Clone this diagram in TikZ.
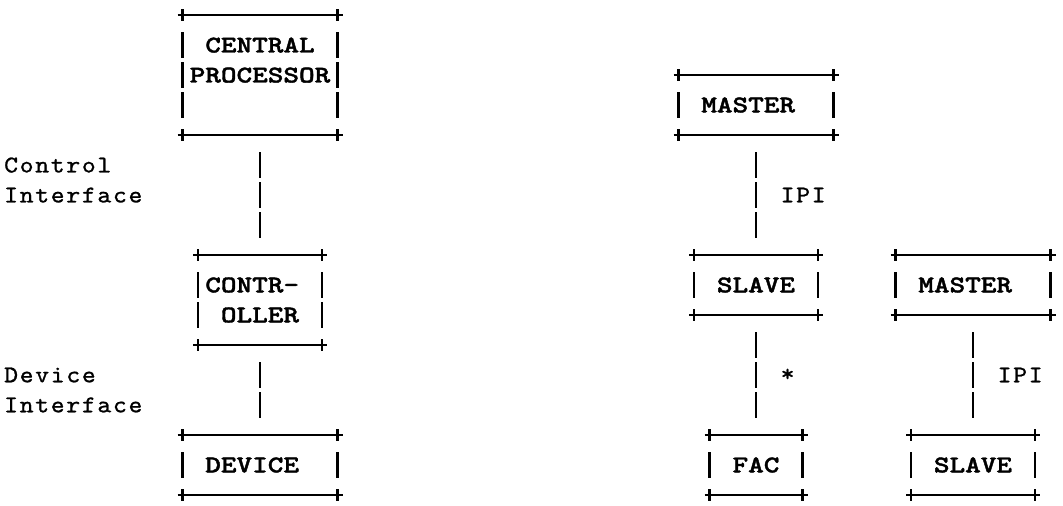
\documentclass[tikz,border=0pt]{standalone}
\usepackage{fontspec}
\usepackage{tikz}
\newfontfamily\boxfont{lmmonolt10-bold}[Extension=.otf, FakeStretch=1.24, FakeBold=1.6]
\newfontfamily\sidefont{lmmono10-regular}[Extension=.otf, FakeStretch=1.1, LetterSpace=7, FakeBold=1]

\begin{document}
\begin{tikzpicture}[x=1pt, y=-1pt,
    unit/.style={rectangle, inner sep=0pt, outer sep=0pt, align=center,
        font=\boxfont\fontsize{24}{30}\selectfont},
    rule/.style={line width=2.8pt},
    bars/.style={line width=2.8pt, dash pattern=on 26pt off 4pt},
    link/.style={bars, shorten <=17pt, shorten >=17pt},
    side/.style={inner sep=0pt, anchor=west, align=left,
        font=\sidefont\fontsize{24}{30}\selectfont},
    tag/.style={side, midway, xshift=23.25pt}]

% Page
\fill[white] (0,0) rectangle (1063,506);

% Left column: host side
\node[unit, minimum width=155pt, minimum height=120pt] (cp) at (260,75)
    {CENTRAL\\PROCESSOR\\\mbox{}};
\node[unit, minimum width=124pt, minimum height=90pt, align=left] (ctrl) at (260,300)
    {CONTR-\phantom{O}\\\phantom{O}OLLER};
\node[unit, minimum width=155pt, minimum height=60pt] (dev) at (260,465)
    {DEVICE\phantom{O}};

% Middle column: master, slave, facility
\node[unit, minimum width=155pt, minimum height=60pt] (mast) at (756,105)
    {MASTER\phantom{O}};
\node[unit, minimum width=124pt, minimum height=60pt] (slave) at (756,285)
    {SLAVE};
\node[unit, minimum width=93pt, minimum height=60pt] (fac) at (756,465)
    {FAC};

% Right column: second master and slave
\node[unit, minimum width=155pt, minimum height=60pt] (mastb) at (973,285)
    {MASTER\phantom{O}};
\node[unit, minimum width=124pt, minimum height=60pt] (slaveb) at (973,465)
    {SLAVE};

% Box outlines drawn as +---+ and | |
\foreach \b in {cp,ctrl,dev,mast,slave,fac,mastb,slaveb} {
  \draw[rule] ([xshift=-5pt]\b.north west) -- ([xshift=5pt]\b.north east)
              ([xshift=-5pt]\b.south west) -- ([xshift=5pt]\b.south east);
  \foreach \c in {north west,north east,south west,south east}
    \draw[rule] ([yshift=6pt]\b.\c) -- ([yshift=-6pt]\b.\c);
  \draw[bars] ([yshift=-17pt]\b.north west) -- ([yshift=17pt]\b.south west);
  \draw[bars] ([yshift=-17pt]\b.north east) -- ([yshift=17pt]\b.south east);
}

% Interfaces
\draw[link] (cp) -- (ctrl);
\draw[link] (ctrl) -- (dev);
\draw[link] (mast) -- node[tag] {IPI} (slave);
\draw[link] (slave) -- node[tag] {*} (fac);
\draw[link] (mastb) -- node[tag] {IPI} (slaveb);

% Side labels
\node[side] (ctlif) at (4,180) {Control\\Interface};
\node[side] (devif) at (4,390) {Device\\Interface};

\end{tikzpicture}
\end{document}
